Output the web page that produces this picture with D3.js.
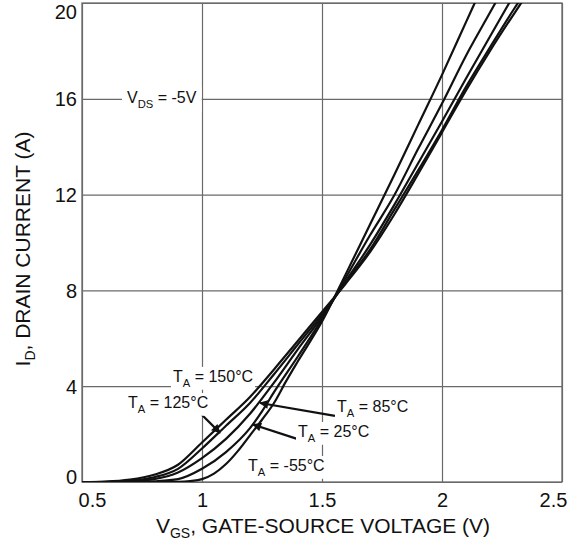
<!DOCTYPE html>
<html>
<head>
<meta charset="utf-8">
<script src="https://cdn.jsdelivr.net/npm/d3@7"></script>
<style>
  body { margin: 0; background: #fff; }
  svg { display: block; }
  text { font-family: "Liberation Sans", Arial, Helvetica, sans-serif; fill: #111; }
</style>
</head>
<body>
<svg id="chart" width="582" height="542"></svg>
<script>
// Transfer characteristics: drain current vs gate-source voltage, VDS = -5V
const xTicks = [0.5, 1, 1.5, 2, 2.5];
const yTicks = [0, 4, 8, 12, 16, 20];

// [VGS (V), ID (A)] per ambient temperature
const curveM55 = [[0.5,0],[0.8,0],[0.9,0.01],[0.95,0.04],[1.0,0.12],[1.05,0.35],[1.1,0.75],[1.15,1.3],[1.2,1.95],[1.25,2.6],[1.3,3.3],[1.35,4.2],[1.4,5.05],[1.5,6.7],[1.6,8.7],[1.7,10.75],[1.8,12.8],[1.9,14.9],[2.0,17.0],[2.1,19.2],[2.15,20.3]];
const curve25  = [[0.5,0],[0.7,0],[0.8,0.03],[0.9,0.12],[1.0,0.55],[1.1,1.25],[1.2,2.25],[1.25,2.95],[1.3,3.75],[1.4,5.25],[1.5,6.8],[1.6,8.55],[1.7,10.3],[1.8,11.95],[1.9,13.9],[2.0,15.8],[2.1,17.8],[2.2,19.6],[2.25,20.5]];
const curve85  = [[0.5,0],[0.6,0],[0.7,0.03],[0.8,0.12],[0.9,0.4],[1.0,1.0],[1.1,1.8],[1.2,2.85],[1.3,4.15],[1.4,5.55],[1.5,6.9],[1.6,8.4],[1.7,9.9],[1.8,11.55],[1.9,13.3],[2.0,15.05],[2.1,16.85],[2.2,18.6],[2.3,20.35]];
const curve125 = [[0.5,0],[0.6,0.01],[0.7,0.06],[0.8,0.2],[0.9,0.55],[1.0,1.4],[1.1,2.35],[1.2,3.3],[1.3,4.5],[1.4,5.75],[1.5,7.0],[1.6,8.35],[1.7,9.7],[1.8,11.35],[1.9,13.0],[2.0,14.7],[2.1,16.5],[2.2,18.15],[2.3,19.75],[2.35,20.5]];
const curve150 = [[0.5,0],[0.6,0.02],[0.7,0.1],[0.8,0.3],[0.9,0.72],[1.0,1.65],[1.1,2.6],[1.2,3.55],[1.3,4.7],[1.4,5.9],[1.5,7.1],[1.6,8.3],[1.7,9.6],[1.8,11.15],[1.9,12.85],[2.0,14.6],[2.1,16.35],[2.2,18.0],[2.3,19.55],[2.35,20.3]];
const curves = [curveM55, curve25, curve85, curve125, curve150];

// Temperature callouts: label text, label anchor [V, A], optional arrow [from, to]
const tempLabels = [
  { t: "150°C", at: [0.879, 4.18] },
  { t: "125°C", at: [0.692, 3.09], arrow: [[0.992, 2.88], [1.075, 2.05]] },
  { t: "85°C",  at: [1.5625, 2.92], arrow: [[1.554, 2.76], [1.242, 3.3]] },
  { t: "25°C",  at: [1.40, 1.88], arrow: [[1.396, 1.80], [1.2125, 2.4]] },
  { t: "-55°C", at: [1.192, 0.46] }
];
const vdsLabel = { at: [0.6875, 15.82] };

(function draw() {
  const svg = d3.select("#chart");
  const m = { left: 82, right: 562, top: 3, bottom: 482 };

  const x = d3.scaleLinear().domain([0.5, 2.5]).range([m.left, m.right]);
  const y = d3.scaleLinear().domain([0, 20]).range([m.bottom, m.top]);

  const gridColor = "#6a6a6a";

  // Grid + ticks
  const gx = svg.append("g")
    .attr("transform", `translate(0,${m.bottom})`)
    .call(d3.axisBottom(x).tickValues(xTicks).tickSize(-(m.bottom - m.top)).tickFormat(d3.format("")));
  gx.select(".domain").remove();
  gx.selectAll("line").attr("stroke", gridColor).attr("stroke-width", 1.2);
  gx.selectAll("text")
    .attr("font-size", 20).attr("fill", "#111")
    .attr("y", 25).attr("dy", 0)
    .attr("dx", d => d === 0.5 ? 10 : d === 2.5 ? -9 : 0);

  const gy = svg.append("g")
    .attr("transform", `translate(${m.left},0)`)
    .call(d3.axisLeft(y).tickValues(yTicks).tickSize(-(m.right - m.left)).tickPadding(5));
  gy.select(".domain").remove();
  gy.selectAll("line").attr("stroke", gridColor).attr("stroke-width", 1.2);
  gy.selectAll("text")
    .attr("font-size", 20).attr("fill", "#111")
    .attr("dy", d => d === 0 ? "0.05em" : d === 20 ? "0.75em" : "0.35em");

  svg.append("rect")
    .attr("x", m.left).attr("y", m.top)
    .attr("width", m.right - m.left).attr("height", m.bottom - m.top)
    .attr("fill", "none").attr("stroke", gridColor).attr("stroke-width", 1.3);

  // Curves
  svg.append("clipPath").attr("id", "plotClip")
    .append("rect").attr("x", m.left).attr("y", m.top)
    .attr("width", m.right - m.left).attr("height", m.bottom - m.top);

  const line = d3.line().x(d => x(d[0])).y(d => y(d[1])).curve(d3.curveMonotoneX);
  svg.append("g").attr("clip-path", "url(#plotClip)")
    .selectAll("path").data(curves).join("path")
    .attr("d", line)
    .attr("fill", "none").attr("stroke", "#111").attr("stroke-width", 2.2);

  // Arrow head
  svg.append("defs").append("marker")
    .attr("id", "head").attr("viewBox", "0 0 10 10")
    .attr("refX", 9).attr("refY", 5)
    .attr("markerWidth", 12).attr("markerHeight", 9)
    .attr("markerUnits", "userSpaceOnUse")
    .attr("orient", "auto")
    .append("path").attr("d", "M0,0 L10,5 L0,10 Z").attr("fill", "#111");

  // Text with a subscript
  function subText(g, main, sub, rest, px, py, size) {
    const t = g.append("text").attr("x", px).attr("y", py).attr("font-size", size);
    t.append("tspan").text(main);
    t.append("tspan").attr("font-size", size * 0.7).attr("dy", size * 0.3).text(sub);
    t.append("tspan").attr("dy", -size * 0.3).text(rest);
    return t;
  }
  // White backing box sized to the text
  function backed(g, build, pad) {
    const box = g.append("rect").attr("fill", "#fff");
    const t = build(g);
    const b = t.node().getBBox();
    box.attr("x", b.x - pad[0]).attr("y", b.y - pad[1])
       .attr("width", b.width + 2 * pad[0]).attr("height", b.height + 2 * pad[1]);
    return t;
  }

  const ann = svg.append("g");
  backed(ann, g => subText(g, "V", "DS", " = -5V", x(vdsLabel.at[0]), y(vdsLabel.at[1]), 16), [5, 2]);

  tempLabels.forEach(d => {
    if (d.arrow) {
      ann.append("line")
        .attr("x1", x(d.arrow[0][0])).attr("y1", y(d.arrow[0][1]))
        .attr("x2", x(d.arrow[1][0])).attr("y2", y(d.arrow[1][1]))
        .attr("stroke", "#111").attr("stroke-width", 2.2)
        .attr("marker-end", "url(#head)");
    }
  });
  tempLabels.forEach(d => {
    backed(ann, g => subText(g, "T", "A", " = " + d.t, x(d.at[0]), y(d.at[1]), 16), [2, 1]);
  });

  // Axis titles
  const xt = svg.append("text").attr("x", 323).attr("y", 533)
    .attr("text-anchor", "middle").attr("font-size", 21);
  xt.append("tspan").text("V");
  xt.append("tspan").attr("font-size", 14).attr("dy", 5).text("GS");
  xt.append("tspan").attr("dy", -5).text(", GATE-SOURCE VOLTAGE (V)");

  const yt = svg.append("text")
    .attr("transform", "translate(30,249) rotate(-90)")
    .attr("text-anchor", "middle").attr("font-size", 21);
  yt.append("tspan").text("I");
  yt.append("tspan").attr("font-size", 14).attr("dy", 5).text("D");
  yt.append("tspan").attr("dy", -5).text(", DRAIN CURRENT (A)");
})();
</script>
</body>
</html>
